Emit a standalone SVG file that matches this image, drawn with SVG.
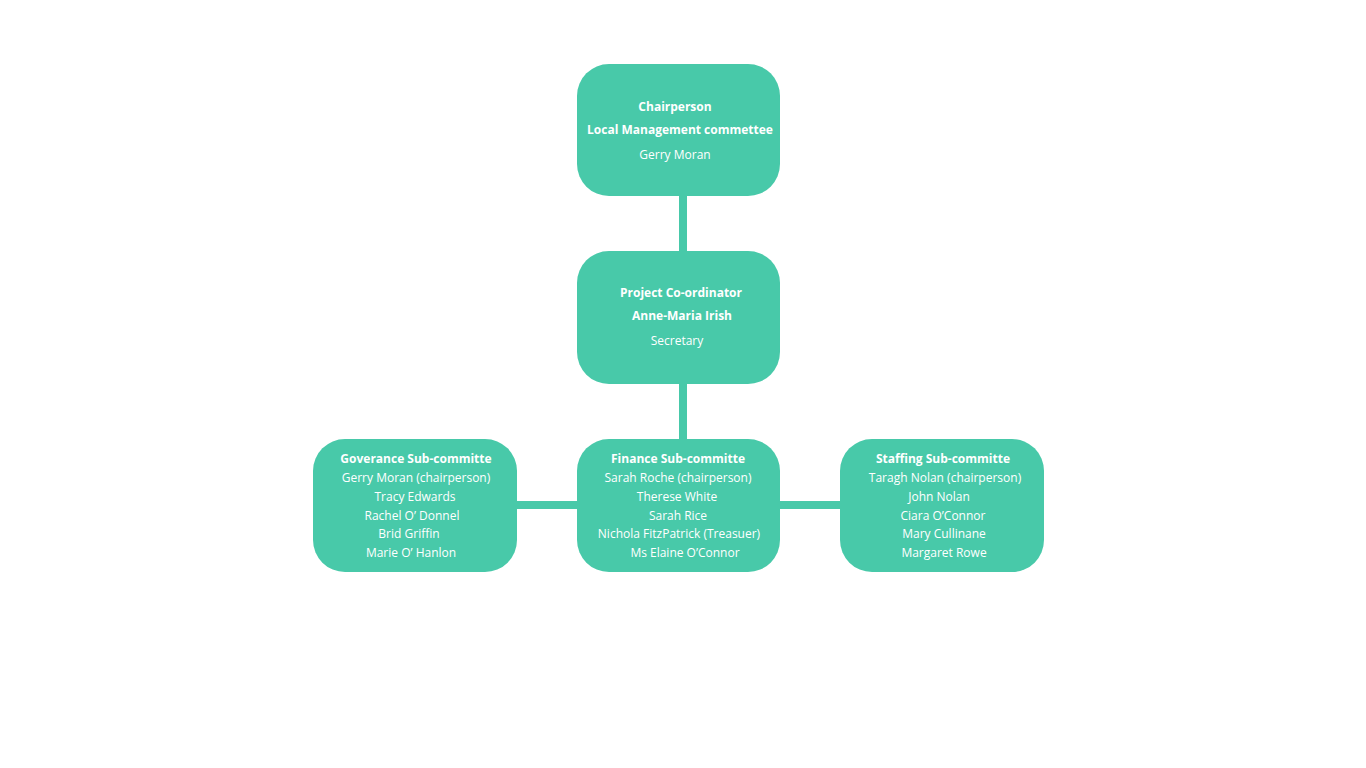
<svg xmlns="http://www.w3.org/2000/svg" width="1366" height="768" viewBox="0 0 1366 768">
<style>
.box{fill:#48C9A9}
.conn{stroke:#48C9A9;stroke-width:8;fill:none}
text{font-family:"Open Sans","Noto Sans","Liberation Sans",sans-serif;font-size:12px;fill:#ffffff;text-anchor:middle}
.b{font-weight:bold}
</style>
<rect width="1366" height="768" fill="#ffffff"/>
<g id="connectors">
<line class="conn" x1="683" y1="194" x2="683" y2="253"/>
<line class="conn" x1="683" y1="382" x2="683" y2="441"/>
<line class="conn" x1="515" y1="505" x2="579" y2="505"/>
<line class="conn" x1="778" y1="505" x2="842" y2="505"/>
</g>
<g id="chairperson">
<rect class="box" x="577" y="64" width="203" height="132" rx="32"/>
<text class="b" x="675" y="111">Chairperson</text>
<text class="b" x="680" y="134">Local Management commettee</text>
<text x="675" y="159">Gerry Moran</text>
</g>
<g id="coordinator">
<rect class="box" x="577" y="251" width="203" height="133" rx="32"/>
<text class="b" x="681" y="297">Project Co-ordinator</text>
<text class="b" x="682" y="320">Anne-Maria Irish</text>
<text x="677" y="345">Secretary</text>
</g>
<g id="governance">
<rect class="box" x="313" y="439" width="204" height="133" rx="32"/>
<text class="b" x="416" y="463">Goverance Sub-committe</text>
<text x="416" y="482">Gerry Moran (chairperson)</text>
<text x="415" y="501">Tracy Edwards</text>
<text x="412" y="520">Rachel O’ Donnel</text>
<text x="409" y="538">Brid Griffin</text>
<text x="411" y="557">Marie O’ Hanlon</text>
</g>
<g id="finance">
<rect class="box" x="577" y="439" width="203" height="133" rx="32"/>
<text class="b" x="678" y="463">Finance Sub-committe</text>
<text x="678" y="482">Sarah Roche (chairperson)</text>
<text x="677" y="501">Therese White</text>
<text x="678" y="520">Sarah Rice</text>
<text x="679" y="538">Nichola FitzPatrick (Treasuer)</text>
<text x="685" y="557">Ms Elaine O’Connor</text>
</g>
<g id="staffing">
<rect class="box" x="840" y="439" width="204" height="133" rx="32"/>
<text class="b" x="943" y="463">Staffing Sub-committe</text>
<text x="945" y="482">Taragh Nolan (chairperson)</text>
<text x="939" y="501">John Nolan</text>
<text x="943" y="520">Ciara O’Connor</text>
<text x="944" y="538">Mary Cullinane</text>
<text x="944" y="557">Margaret Rowe</text>
</g>
</svg>
